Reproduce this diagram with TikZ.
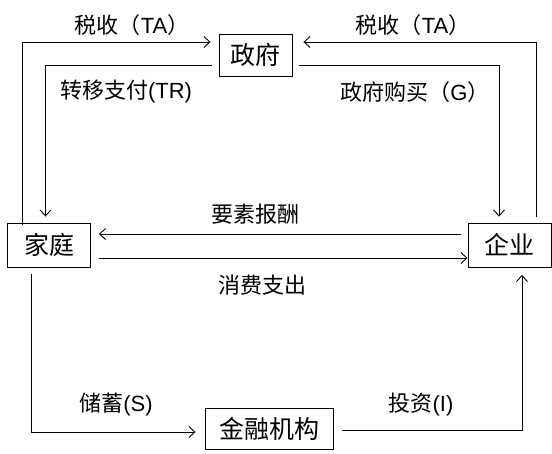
\documentclass[tikz,border=0pt]{standalone}
\usepackage{fontspec}
\setmainfont{Noto Sans CJK SC}
\newfontfamily\lat{Liberation Sans}
\usetikzlibrary{calc,arrows.meta}
\begin{document}
\begin{tikzpicture}[x=1pt,y=-1pt,
  box/.style={draw,line width=0.9pt,inner sep=0pt,font=\fontsize{25}{27}\selectfont},
  lbl/.style={inner sep=0pt,font=\fontsize{22}{24}\selectfont},
  arr/.style={line width=0.9pt,-{Straight Barb[length=6pt,width=11pt,line width=0.9pt]}}]
\useasboundingbox (0,0) rectangle (552,453);
\node[box,minimum width=73pt,minimum height=42pt] (gov) at (255.5,55) {政府};
\node[box,minimum width=83pt,minimum height=44pt] (house) at (49,245) {家庭};
\node[box,minimum width=83pt,minimum height=44pt] (firm) at (509.5,245) {企业};
\node[box,minimum width=128pt,minimum height=41pt] (fin) at (269,428.5) {金融机构};
\draw[arr] ($(house.north)+(-27,2)$) |- ($(gov.west)+(-8,-13)$);
\draw[arr] ($(gov.west)+(-7,10)$) -| ($(house.north)+(-3.5,-6)$);
\draw[arr] ($(firm.north)+(27,-6)$) |- ($(gov.east)+(11,-13)$);
\draw[arr] ($(gov.east)+(7,10)$) -| ($(firm.north)+(-10.5,-6)$);
\draw[arr] ($(firm.west)+(-7,-11)$) -- ($(house.east)+(8,-11)$);
\draw[arr] ($(house.east)+(8,13)$) -- ($(firm.west)+(0,13)$);
\draw[arr] ($(house.south)+(-18,7)$) |- ($(fin.west)+(-9,3.5)$);
\draw[arr] ($(fin.east)+(8.5,1.5)$) -| ($(firm.south)+(12.5,7.5)$);
\node[lbl] (ta1) at (132,25) {税收（{\lat TA}）};
\node[lbl] (ta2) at (413,25) {税收（{\lat TA}）};
\node[lbl] (tr) at (126,92) {转移支付{\lat (TR)}};
\node[lbl] (g) at (415,92) {政府购买（{\lat G}）};
\node[lbl] (fp) at (255,214) {要素报酬};
\node[lbl] (ce) at (262,285) {消费支出};
\node[lbl] (sv) at (116,405) {储蓄{\lat (S)}};
\node[lbl] (iv) at (421,405) {投资{\lat (I)}};
\end{tikzpicture}
\end{document}
